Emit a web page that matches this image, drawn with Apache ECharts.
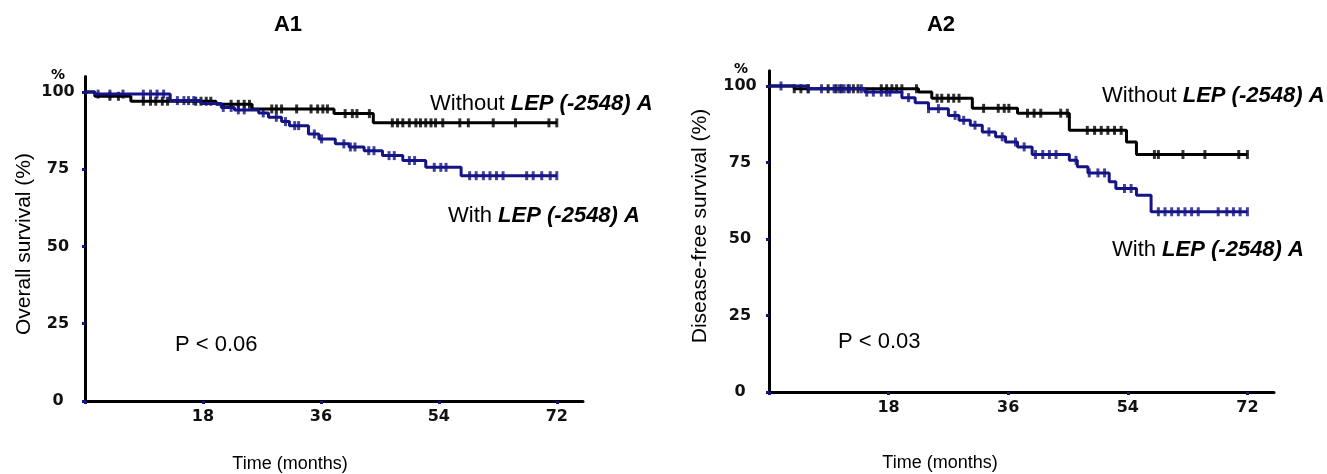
<!DOCTYPE html>
<html>
<head>
<meta charset="utf-8">
<script src="https://cdn.jsdelivr.net/npm/echarts@6/dist/echarts.min.js"></script>
<style>
  html, body { margin: 0; padding: 0; background: #fff; }
  #main { width: 1327px; height: 474px; }
</style>
</head>
<body>
<div id="main"></div>
<script>
// A1 - overall survival, step points (time in months, survival %)
const osWithoutT = [0, 1.5, 7, 20, 25.5, 38, 44, 72];
const osWithoutS = [100, 98.6, 97, 96, 94.5, 93, 90, 90];
const osWithT = [0, 1.5, 13, 17.7, 20.8, 22.8, 26.5, 28, 30, 31.2, 34.1, 35.7, 38.2, 40.3, 42.6, 45.4, 48.5, 52, 57.4, 72];
const osWithS = [100, 99.3, 97.2, 96.3, 95, 94.2, 93.2, 91.8, 90.4, 89.1, 86.4, 84.8, 83.2, 82.2, 81, 79.4, 77.8, 75.6, 72.9, 72.9];
// censored times
const osWithoutCens = [3.8, 5.1, 8.9, 10, 10.8, 11.8, 12.6, 16.9, 17.7, 18.5, 19.2, 22.3, 23.4, 24.3, 25.1, 28.5, 29.2, 30, 32.3,
  34.5, 35.5, 36.3, 37, 39.7, 40.8, 41.5, 43.4, 46.9, 47.7, 48.5, 49.5, 50.5, 51.2, 52, 52.8, 53.5, 54.6, 57.2, 58.5, 62.3, 65.7, 70.8, 72];
const osWithCens = [2, 3.8, 5.8, 8.9, 10, 11, 12, 14.1, 15.1, 15.8, 16.6, 21.1, 22.3, 23.4, 24.3, 27.2, 29.2, 30.6, 32, 32.6, 35, 36.1,
  39.5, 40.5, 41.2, 43.3, 44.1, 46.4, 47.2, 49.5, 50.3, 53.3, 54.3, 55.1, 58.7, 59.7, 60.8, 61.8, 62.8, 63.8, 67.4, 68.4, 69.7, 71, 72];

// A2 - disease-free survival
const dfsWithoutT = [0, 3.8, 22.5, 24.5, 30.6, 37.4, 45.2, 53.8, 55.3, 72];
const dfsWithoutS = [100, 99.1, 98, 96, 92.7, 91.1, 85.5, 81.7, 77.6, 77.6];
const dfsWithT = [0, 5.9, 14.4, 20, 22, 24, 27, 28.6, 30.3, 32.1, 34.1, 35.6, 37.4, 39.6, 45.2, 46.4, 48, 51.2, 52.2, 55.3, 57.5, 72];
const dfsWithS = [100, 99.1, 98, 96.2, 94.5, 92.6, 90.4, 88.8, 87.2, 85, 83.4, 81.7, 80.1, 77.6, 75.7, 73.6, 71.6, 68.7, 66.5, 64.3, 58.9, 58.9];
const dfsWithoutCens = [3.8, 4.8, 5.9, 8.9, 10.1, 10.9, 11.9, 12.7, 13.4, 16.9, 17.7, 18.5, 19.2, 20, 22.2, 25.3, 26, 27, 27.8, 28.6,
  32.3, 34.5, 35.4, 36.1, 38.9, 39.9, 40.9, 43.9, 44.9, 47.9, 49, 50, 51, 52, 53, 58, 58.6, 62.3, 65.6, 70.7, 72];
const dfsWithCens = [1.8, 5.9, 7.9, 9.8, 10.6, 11.3, 12.1, 13.9, 14.7, 15.7, 16.9, 17.7, 18.2, 21, 24, 25.5, 28, 29.3, 31, 33.1, 35.1,
  37.1, 38.4, 40.1, 41.2, 42.2, 43.2, 46.2, 48.2, 49.5, 50.5, 53.5, 54.5, 58.6, 59.6, 60.6, 61.6, 62.6, 63.6, 64.6, 67.6, 68.9, 69.9, 70.9, 72];

const yTicks = [0, 25, 50, 75, 100];
const xTicks = [18, 36, 54, 72];

const BLUE = '#141487';
const FONT = "'Liberation Sans', Arial, sans-serif";

function stepData(t, s) {
  return t.map((v, i) => [v, s[i]]);
}
// survival level at a censored time
function censData(cens, t, s) {
  return cens.map(c => {
    let v = s[0];
    for (let i = 0; i < t.length; i++) if (t[i] <= c) v = s[i];
    return [c, v];
  });
}

function xAxis(idx) {
  return {
    gridIndex: idx, type: 'value', min: 0, max: 76,
    axisLine: { show: true, lineStyle: { color: '#000', width: 3 } },
    axisTick: { show: true, customValues: [0].concat(xTicks), length: 3, lineStyle: { color: BLUE, width: 3 } },
    axisLabel: { customValues: xTicks, margin: 8, color: '#111', fontFamily: 'DejaVu Sans', fontWeight: 'bold', fontSize: 16 },
    splitLine: { show: false }
  };
}
function yAxis(idx, margin) {
  return {
    gridIndex: idx, type: 'value', min: 0, max: 105,
    axisLine: { show: true, lineStyle: { color: '#000', width: 3 } },
    axisTick: { show: true, customValues: yTicks, length: 3, lineStyle: { color: BLUE, width: 3 } },
    axisLabel: { customValues: yTicks, margin: margin, align: 'center', color: '#111', fontFamily: 'DejaVu Sans', fontWeight: 'bold', fontSize: 16 },
    splitLine: { show: false }
  };
}
function curve(idx, data, color) {
  return { type: 'line', xAxisIndex: idx, yAxisIndex: idx, step: 'end', data: data, symbol: 'none',
    lineStyle: { color: color, width: 3 }, silent: true, animation: false };
}
function marks(idx, data, color) {
  return { type: 'scatter', xAxisIndex: idx, yAxisIndex: idx, data: data, symbol: 'rect', symbolSize: [3, 9],
    itemStyle: { color: color }, silent: true, animation: false };
}
function label(x, y, text, opts) {
  return { type: 'text', x: x, y: y, rotation: (opts && opts.rotation) || 0, silent: true,
    style: Object.assign({ text: text, fill: '#000', fontFamily: FONT, fontSize: 22,
      textAlign: 'left', textVerticalAlign: 'middle',
      rich: { b: { fontFamily: FONT, fontSize: 22, fontWeight: 'bold', fontStyle: 'italic', fill: '#000' } } }, opts && opts.style) };
}

const chart = echarts.init(document.getElementById('main'));
chart.setOption({
  animation: false,
  grid: [
    { left: 85, top: 76.5, width: 498, height: 324.5 },
    { left: 769, top: 70.7, width: 505, height: 321.3 }
  ],
  xAxis: [xAxis(0), xAxis(1)],
  yAxis: [yAxis(0, 27), yAxis(1, 29)],
  series: [
    curve(0, stepData(osWithoutT, osWithoutS), '#000'),
    marks(0, censData(osWithoutCens, osWithoutT, osWithoutS), '#000'),
    curve(0, stepData(osWithT, osWithS), BLUE),
    marks(0, censData(osWithCens, osWithT, osWithS), BLUE),
    curve(1, stepData(dfsWithoutT, dfsWithoutS), '#000'),
    marks(1, censData(dfsWithoutCens, dfsWithoutT, dfsWithoutS), '#000'),
    curve(1, stepData(dfsWithT, dfsWithS), BLUE),
    marks(1, censData(dfsWithCens, dfsWithT, dfsWithS), BLUE)
  ],
  graphic: [
    label(288, 25, 'A1', { style: { fontWeight: 'bold', fontSize: 22, textAlign: 'center' } }),
    label(941, 25, 'A2', { style: { fontWeight: 'bold', fontSize: 22, textAlign: 'center' } }),
    label(58, 75, '%', { style: { fontFamily: 'DejaVu Sans', fontWeight: 'bold', fontSize: 14, textAlign: 'center' } }),
    label(741, 69, '%', { style: { fontFamily: 'DejaVu Sans', fontWeight: 'bold', fontSize: 14, textAlign: 'center' } }),
    label(430, 104, 'Without {b|LEP (-2548) A}'),
    label(448, 216, 'With {b|LEP (-2548) A}'),
    label(1102, 96, 'Without {b|LEP (-2548) A}'),
    label(1112, 250, 'With {b|LEP (-2548) A}'),
    label(175, 345, 'P < 0.06'),
    label(838, 342, 'P < 0.03'),
    label(24, 244, 'Overall survival (%)', { rotation: Math.PI / 2, style: { textAlign: 'center', fontSize: 21 } }),
    label(700, 226, 'Disease-free survival (%)', { rotation: Math.PI / 2, style: { textAlign: 'center', fontSize: 21 } }),
    label(290, 464, 'Time (months)', { style: { textAlign: 'center', fontSize: 18 } }),
    label(940, 463, 'Time (months)', { style: { textAlign: 'center', fontSize: 18 } })
  ]
});
</script>
</body>
</html>
